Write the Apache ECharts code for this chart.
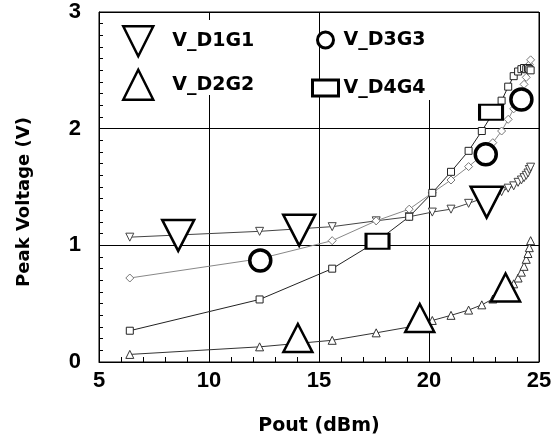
<!DOCTYPE html>
<html><head><meta charset="utf-8">
<script src="https://cdn.jsdelivr.net/npm/echarts@6/dist/echarts.min.js"></script>
<style>html,body{margin:0;padding:0;background:#fff}#c{width:557px;height:441px}</style>
</head><body><div id="c"></div>
<script>
// Pout (dBm) sweep, shared by all curves
const pout = [6.4, 12.3, 15.6, 17.6, 19.1, 20.15, 21.0, 21.8, 22.4, 22.9, 23.3, 23.6, 23.85, 24.05, 24.2, 24.32, 24.42, 24.5, 24.56, 24.62];
const vD1G1 = [1.07, 1.12, 1.16, 1.21, 1.245, 1.285, 1.31, 1.36, 1.40, 1.43, 1.46, 1.49, 1.51, 1.54, 1.56, 1.58, 1.60, 1.62, 1.65, 1.67];
const vD2G2 = [0.065, 0.13, 0.186, 0.25, 0.30, 0.356, 0.40, 0.445, 0.49, 0.54, 0.59, 0.63, 0.67, 0.72, 0.77, 0.82, 0.88, 0.93, 0.98, 1.04];
const vD3G3 = [0.72, 0.885, 1.04, 1.21, 1.31, 1.45, 1.56, 1.675, 1.77, 1.88, 1.98, 2.08, 2.17, 2.25, 2.31, 2.38, 2.44, 2.50, 2.55, 2.59];
const vD4G4 = [0.268, 0.536, 0.80, 1.03, 1.245, 1.45, 1.63, 1.81, 1.98, 2.13, 2.24, 2.36, 2.45, 2.49, 2.51, 2.52, 2.51, 2.52, 2.51, 2.50];
// large identifying markers placed on the curves
const bigD1G1 = [[8.6, 1.085], [14.1, 1.13], [22.62, 1.37]];
const bigD2G2 = [[14.04, 0.206], [19.58, 0.377], [23.48, 0.638]];
const bigD3G3 = [[12.33, 0.87], [22.58, 1.78], [24.2, 2.25]];
const bigD4G4 = [[17.66, 1.035], [22.82, 2.14]];
const names = ['V_D1G1', 'V_D2G2', 'V_D3G3', 'V_D4G4'];
const xTicks = [5, 10, 15, 20, 25];
const yTicks = [0, 1, 2, 3];

const DOWN = 'path://M0,0L10,0L5,10Z';
const zip = (xs, ys) => xs.map((x, i) => [x, ys[i]]);
const lineSeries = (name, ys, symbol, size, lineColor, symColor) => ({
  name: name, type: 'line', data: zip(pout, ys), symbol: symbol, symbolSize: size,
  lineStyle: {color: lineColor, width: 1}, itemStyle: {color: '#fff', borderColor: symColor, borderWidth: 1},
  showAllSymbol: true, animation: false, z: 3
});
const bigSeries = (name, pts, symbol, size, bw) => ({
  name: name + '_big', type: 'scatter', data: pts, symbol: symbol, symbolSize: size,
  itemStyle: {color: '#fff', borderColor: '#000', borderWidth: bw, opacity: 1}, animation: false, z: 5
});
const legendText = {fontFamily: 'DejaVu Sans', fontWeight: 'bold', fontSize: 19, color: '#000', lineHeight: 20};

const chart = echarts.init(document.getElementById('c'), null, {renderer: 'canvas'});
chart.setOption({
  animation: false,
  backgroundColor: '#fff',
  grid: {left: 99, right: 18, top: 12, bottom: 75, show: true, borderColor: '#000', borderWidth: 1, backgroundColor: 'transparent'},
  xAxis: {
    type: 'value', min: xTicks[0], max: xTicks[xTicks.length - 1], interval: 5,
    name: 'Pout (dBm)', nameLocation: 'middle', nameGap: 55,
    nameTextStyle: {fontFamily: 'DejaVu Sans', fontWeight: 'bold', fontSize: 19, color: '#000'},
    axisLine: {lineStyle: {color: '#000', width: 1}},
    axisTick: {inside: true, length: 6, lineStyle: {color: '#000'}},
    minorTick: {show: true, splitNumber: 5, length: 5, lineStyle: {color: '#000'}},
    axisLabel: {fontFamily: 'Liberation Sans', fontWeight: 'bold', fontSize: 22, color: '#000', margin: 8},
    splitLine: {show: true, lineStyle: {color: '#000', width: 1}}
  },
  yAxis: {
    type: 'value', min: yTicks[0], max: yTicks[yTicks.length - 1], interval: 1,
    name: 'Peak Voltage (V)', nameLocation: 'middle', nameGap: 66,
    nameTextStyle: {fontFamily: 'DejaVu Sans', fontWeight: 'bold', fontSize: 18, color: '#000', padding: [0, 30, 0, 0]},
    axisLine: {lineStyle: {color: '#000', width: 1}},
    axisTick: {inside: true, length: 5, lineStyle: {color: '#000'}},
    minorTick: {show: true, splitNumber: 10, length: 4, lineStyle: {color: '#000'}},
    axisLabel: {fontFamily: 'Liberation Sans', fontWeight: 'bold', fontSize: 22, color: '#000', margin: 18},
    splitLine: {show: true, lineStyle: {color: '#000', width: 1}}
  },
  graphic: [
    {type: 'rect', shape: {x: 165, y: 20, width: 98, height: 75}, style: {fill: '#fff'}, z: 1},
    {type: 'rect', shape: {x: 336, y: 13, width: 100, height: 87}, style: {fill: '#fff'}, z: 1}
  ],
  legend: [
    {
      data: [
        {name: names[0], icon: DOWN},
        {name: names[1], icon: 'triangle'}
      ],
      orient: 'vertical', left: 117, top: 20, itemWidth: 30, itemHeight: 30, itemGap: 11,
      itemStyle: {color: '#fff', borderColor: '#000', borderWidth: 2.5},
      textStyle: Object.assign({padding: [0, 0, 0, 14]}, legendText),
      selectedMode: false, z: 6
    },
    {
      data: [
        {name: names[2], icon: 'circle'},
        {name: names[3], icon: 'rect'}
      ],
      orient: 'vertical', left: 306, top: 25, itemWidth: 26, itemHeight: 16, itemGap: 28,
      itemStyle: {color: '#fff', borderColor: '#000', borderWidth: 3},
      textStyle: Object.assign({padding: [0, 0, 0, 0]}, legendText),
      selectedMode: false, z: 6
    }
  ],
  series: [
    lineSeries(names[0], vD1G1, DOWN, 8, '#444', '#444'),
    lineSeries(names[1], vD2G2, 'triangle', 8, '#333', '#333'),
    lineSeries(names[2], vD3G3, 'diamond', 8, '#888', '#777'),
    lineSeries(names[3], vD4G4, 'rect', 7, '#222', '#222'),
    bigSeries(names[0], bigD1G1, DOWN, [32, 31], 2.5),
    bigSeries(names[1], bigD2G2, 'triangle', [29, 28], 2.5),
    bigSeries(names[2], bigD3G3, 'circle', 21, 3.5),
    bigSeries(names[3], bigD4G4, 'rect', [23, 15], 2.5)
  ]
});
</script></body></html>
